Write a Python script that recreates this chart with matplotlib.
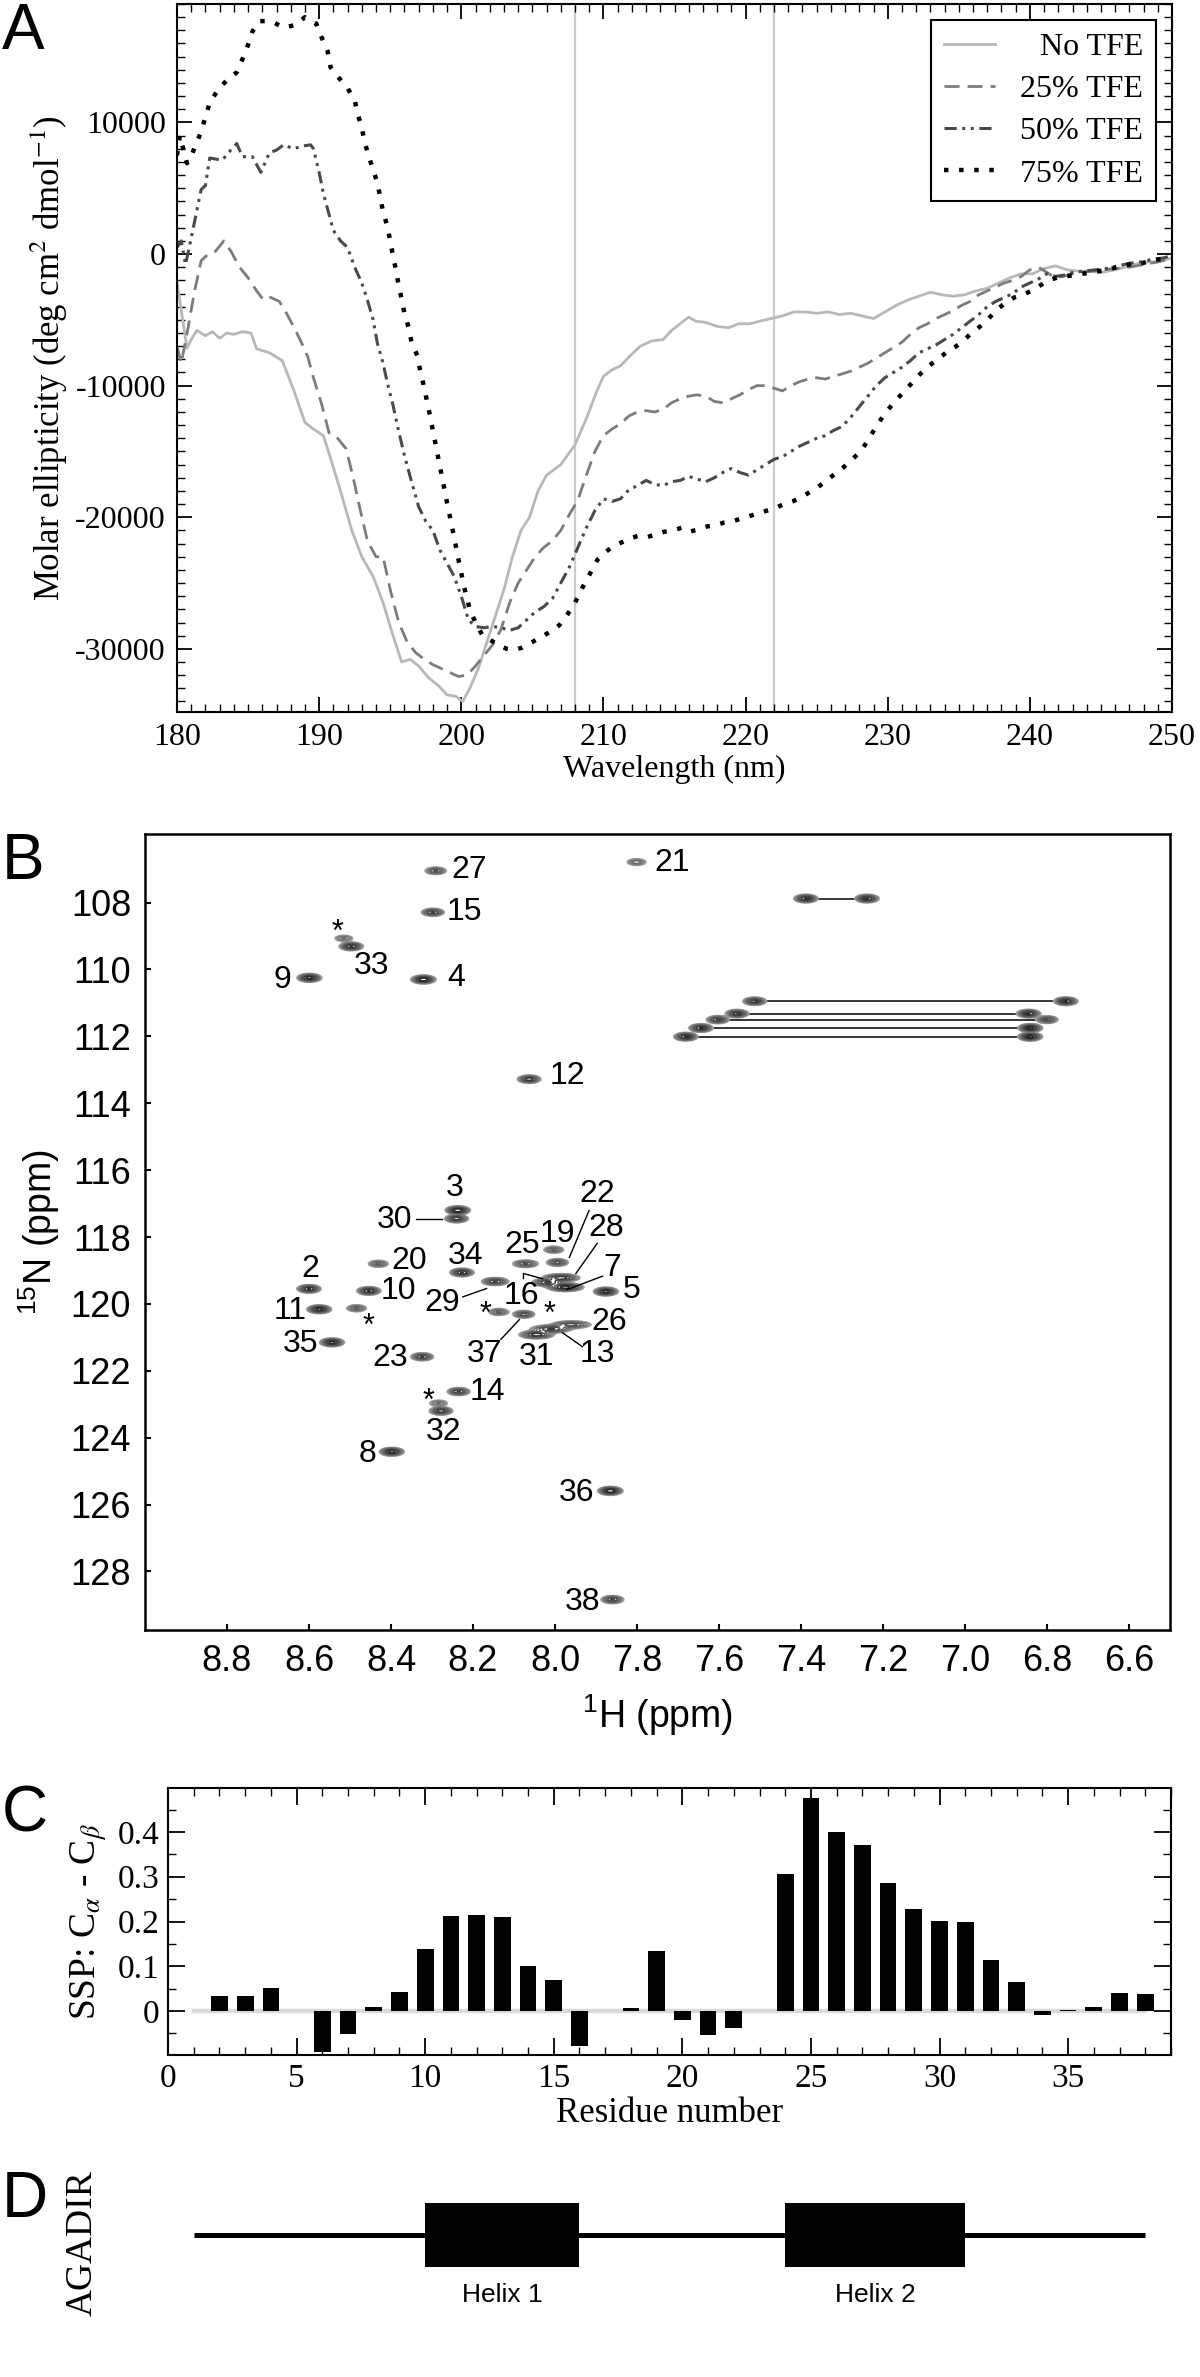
import numpy as np
import matplotlib
matplotlib.use("Agg")
import matplotlib.pyplot as plt
from matplotlib.ticker import MultipleLocator

plt.rcParams['font.family'] = ['Liberation Serif', 'DejaVu Serif']
plt.rcParams['axes.unicode_minus'] = False
plt.rcParams['mathtext.fontset'] = 'custom'
plt.rcParams['mathtext.rm'] = 'Liberation Sans'
plt.rcParams['mathtext.it'] = 'Liberation Sans:italic'
plt.rcParams['mathtext.bf'] = 'Liberation Sans:bold'

SANS = ['Liberation Sans', 'DejaVu Sans']
NARROW = ['Liberation Sans Narrow', 'Liberation Sans', 'DejaVu Sans']

# ---------------- panel A: CD spectra ----------------
wl_none = [180.0, 180.4, 180.7, 181.0, 181.4, 182.0, 182.5, 183.0, 183.5, 184.0, 184.6, 185.2, 185.6,
           186.5, 187.4, 188.2, 189.0, 189.6, 190.3, 190.8, 191.5, 192.3, 193.0, 193.8, 194.5, 195.2,
           195.8, 196.4, 197.0, 197.7, 198.4, 199.0, 199.6, 200.1, 200.6, 201.2, 201.8, 202.4, 203.0,
           203.6, 204.2, 204.8, 205.4, 206.0, 207.0, 208.0, 208.8, 209.5, 210.0, 210.6, 211.2, 212.0,
           212.6, 213.4, 214.2, 214.8, 215.5, 216.0, 216.5, 217.2, 218.0, 218.8, 219.5, 220.3, 221.0,
           221.8, 222.6, 223.4, 224.2, 225.0, 225.8, 226.6, 227.4, 228.2, 229.0, 229.8, 230.6, 231.4,
           232.2, 233.0, 233.8, 234.6, 235.4, 236.2, 237.0, 237.8, 238.6, 239.4, 240.2, 241.0, 241.8,
           242.6, 243.4, 244.2, 245.0, 246.0, 247.0, 248.0, 249.0, 250.0]
cd_none = [-2100, -5000, -7150, -6500, -5800, -6200, -5900, -6400, -6000, -6100, -5900, -6000, -7200,
           -7500, -8100, -10300, -12800, -13300, -13800, -15500, -18000, -21000, -23000, -24500, -26500,
           -29000, -31000, -30800, -31300, -32200, -32800, -33500, -33600, -34000, -33000, -31500,
           -29500, -27500, -25500, -23000, -21000, -20000, -18000, -16800, -16000, -14500, -12500,
           -10500, -9300, -8800, -8500, -7600, -7000, -6600, -6500, -5800, -5200, -4800, -5100, -5200,
           -5500, -5600, -5300, -5300, -5100, -4900, -4700, -4400, -4400, -4500, -4400, -4600, -4500,
           -4700, -4900, -4400, -3900, -3500, -3200, -2900, -3100, -3200, -3100, -2800, -2600, -2200,
           -1800, -1500, -1500, -1100, -900, -1200, -1300, -1300, -1400, -1200, -900, -600, -600, -300]

wl_25 = [180.0, 180.3, 180.8, 181.2, 181.7, 182.2, 182.7, 183.3, 183.8, 184.4, 185.0, 185.6, 186.1,
         186.6, 187.2, 187.7, 188.2, 188.7, 189.2, 189.6, 190.2, 190.7, 191.3, 191.9, 192.4, 192.9,
         193.4, 194.0, 194.5, 195.0, 195.6, 196.2, 196.8, 197.4, 198.0, 198.6, 199.2, 199.8, 200.4,
         201.0, 201.6, 202.2, 202.8, 203.4, 204.0, 204.6, 205.2, 205.8, 206.4, 207.0, 207.6, 208.2,
         208.8, 209.4, 210.0, 210.6, 211.2, 211.8, 212.4, 213.0, 213.6, 214.2, 214.8, 215.4, 216.0,
         216.6, 217.2, 217.8, 218.4, 219.0, 219.6, 220.2, 220.8, 221.4, 222.0, 222.6, 223.2, 223.8,
         224.4, 225.0, 225.6, 226.2, 226.8, 227.4, 228.0, 228.6, 229.2, 229.8, 230.4, 231.0, 231.6,
         232.2, 232.8, 233.4, 234.0, 234.6, 235.2, 235.8, 236.4, 237.0, 237.6, 238.2, 238.8, 239.4,
         240.0, 240.6, 241.2, 241.8, 242.4, 243.0, 243.6, 244.4, 245.2, 246.0, 247.0, 248.0, 249.0, 250.0]
cd_25 = [-7000, -8300, -5500, -3000, -500, 0, 200, 1000, 200, -1000, -1800, -2800, -3500, -3300, -3600,
         -4500, -5500, -6600, -7800, -9400, -11500, -13600, -14000, -14800, -17000, -19500, -21800,
         -23000, -23000, -25500, -28000, -29500, -30300, -30800, -31200, -31500, -31800, -32100,
         -32000, -31300, -30500, -29700, -28500, -26500, -25000, -24000, -23000, -22300, -21800,
         -21000, -19800, -18700, -16800, -15000, -13800, -13300, -12900, -12300, -12000, -11900,
         -12000, -11800, -11300, -11000, -10800, -10700, -10800, -11200, -11300, -11000, -10700,
         -10300, -10000, -10000, -10200, -10400, -10000, -9700, -9500, -9400, -9500, -9300, -9100,
         -8900, -8600, -8300, -7900, -7500, -7100, -6700, -6100, -5600, -5300, -4900, -4600, -4300,
         -3900, -3600, -3100, -2800, -2500, -2200, -2000, -1700, -1200, -1000, -1400, -1800, -1700,
         -1500, -1400, -1300, -1200, -1100, -1000, -800, -600, -300]

wl_50 = [180.0, 180.3, 180.6, 180.9, 181.3, 181.7, 182.0, 182.3, 182.8, 183.2, 183.7, 184.2, 184.6,
         185.3, 185.9, 186.5, 187.0, 187.5, 188.2, 188.8, 189.4, 189.6, 190.0, 190.3, 190.7, 191.0,
         191.5, 192.0, 192.5, 193.0, 193.4, 193.8, 194.1, 194.5, 194.8, 195.2, 195.6, 196.0, 196.5,
         197.0, 197.5, 198.0, 198.5, 199.0, 199.5, 200.0, 200.5, 201.0, 201.6, 202.2, 202.8, 203.4,
         204.0, 204.6, 205.2, 205.8, 206.4, 207.0, 207.6, 208.2, 208.8, 209.4, 210.0, 210.6, 211.2,
         211.8, 212.4, 213.0, 213.6, 214.2, 214.8, 215.4, 216.0, 216.6, 217.2, 217.8, 218.4, 219.0,
         219.6, 220.2, 220.8, 221.4, 222.0, 222.6, 223.2, 223.8, 224.4, 225.0, 225.6, 226.2, 226.8,
         227.4, 228.0, 228.6, 229.2, 229.8, 230.4, 231.0, 231.6, 232.2, 232.8, 233.4, 234.0, 234.6,
         235.2, 235.8, 236.4, 237.0, 237.6, 238.2, 238.8, 239.4, 240.0, 240.6, 241.2, 241.8, 242.4,
         243.0, 243.8, 244.6, 245.4, 246.2, 247.0, 247.8, 248.6, 249.4, 250.0]
cd_50 = [500, 1000, -800, 700, 2800, 4900, 5200, 7300, 7200, 7150, 7800, 8400, 7400, 7400, 6200, 7700,
         7900, 8300, 8000, 8200, 8300, 8000, 6200, 4600, 3000, 1800, 1000, 500, -1000, -2200, -3500,
         -5000, -6800, -8300, -9800, -11500, -13500, -15300, -17300, -19200, -20300, -21000, -22500,
         -23500, -24500, -26000, -27800, -28300, -28400, -28300, -28400, -28600, -28400, -27800,
         -27200, -26800, -26200, -25000, -23800, -22300, -20800, -19500, -18600, -18800, -18600,
         -17900, -17600, -17200, -17500, -17600, -17300, -17200, -16900, -17100, -17300, -17000,
         -16600, -16300, -16600, -16800, -16400, -16000, -15600, -15400, -15000, -14600, -14300,
         -14000, -13800, -13400, -13100, -12400, -11600, -10800, -10000, -9400, -9000, -8600, -8100,
         -7500, -7200, -6900, -6500, -6100, -5600, -5100, -4600, -4000, -3600, -3300, -3000, -2500,
         -2200, -1900, -1500, -1700, -1600, -1400, -1300, -1200, -1100, -900, -700, -600, -400, -300, -100]

wl_75 = [180.0, 180.2, 180.7, 181.1, 181.7, 182.3, 182.9, 183.5, 184.2, 184.6, 185.0, 185.3, 185.8,
         186.3, 186.8, 187.5, 188.3, 189.0, 189.8, 190.2, 190.6, 190.8, 191.3, 192.0, 192.5, 192.7,
         193.0, 193.2, 193.5, 193.8, 194.1, 194.3, 194.5, 194.8, 195.0, 195.2, 195.4, 195.6, 195.8,
         196.0, 196.3, 196.5, 196.9, 197.1, 197.4, 197.8, 198.2, 198.6, 199.0, 199.4, 199.8, 200.2,
         200.6, 201.0, 201.5, 202.0, 202.6, 203.2, 203.7, 204.3, 204.8, 205.3, 205.8, 206.4, 206.9,
         207.4, 208.0, 208.5, 209.1, 209.6, 210.2, 210.7, 211.3, 211.9, 212.5, 213.1, 213.7, 214.3,
         214.9, 215.5, 216.1, 216.7, 217.3, 217.9, 218.5, 219.1, 219.7, 220.3, 220.9, 221.5, 222.1,
         222.7, 223.3, 223.9, 224.5, 225.1, 225.7, 226.3, 226.9, 227.5, 228.1, 228.7, 229.3, 229.9,
         230.5, 231.1, 231.7, 232.3, 232.9, 233.5, 234.1, 234.7, 235.3, 235.9, 236.5, 237.1, 237.7,
         238.3, 238.9, 239.5, 240.1, 240.7, 241.3, 241.9, 242.5, 243.1, 243.7, 244.3, 244.9, 245.5,
         246.1, 246.7, 247.3, 247.9, 248.5, 249.1, 249.7, 250.0]
cd_75 = [7500, 9000, 6900, 7700, 9300, 11500, 12500, 13200, 13800, 14800, 15900, 16900, 17700, 17700,
         17600, 17200, 17400, 18000, 17500, 16400, 15400, 14200, 13500, 12600, 11700, 10700, 9600,
         8500, 7400, 6400, 5400, 4300, 3200, 2100, 1000, -150, -1200, -2400, -3400, -4500, -5600,
         -6700, -7700, -8800, -10200, -12300, -14500, -16700, -18900, -21000, -23200, -25300, -27000,
         -28000, -29000, -29300, -29700, -30000, -30100, -29900, -29600, -29300, -29000, -28600,
         -28200, -27500, -26500, -25400, -24200, -23200, -22600, -22200, -21900, -21600, -21400,
         -21500, -21300, -21100, -21000, -20800, -21100, -20900, -20700, -20600, -20400, -20300,
         -20100, -19900, -19700, -19500, -19300, -19000, -18800, -18500, -18100, -17700, -17200,
         -16700, -16200, -15600, -15000, -14000, -12900, -12000, -11200, -10500, -9800, -9100, -8500,
         -8000, -7500, -7100, -6600, -6000, -5500, -4900, -4200, -3700, -3300, -3100, -2800, -2400,
         -2000, -1800, -1700, -1600, -1500, -1400, -1300, -1200, -1000, -900, -700, -700, -500, -400,
         -300, -300]

cd_labels = ['No TFE', '25% TFE', '50% TFE', '75% TFE']
marker_wl = [208, 222]

# ---------------- panel B: 1H-15N HSQC ----------------
peak_h = [8.600, 8.237, 8.321, 7.876, 7.975, 8.398, 8.599, 8.454, 8.575, 8.063, 8.010, 8.235, 8.298,
          8.018, 8.003, 8.431, 7.801, 7.994, 8.324, 8.072, 7.960, 8.291, 7.985, 8.146, 8.240, 8.045,
          8.278, 8.497, 8.227, 8.544, 7.865, 8.076, 7.860,
          8.515, 8.484, 8.137, 8.284,
          7.388, 7.239, 7.513, 6.754, 7.556, 6.845, 7.603, 6.800, 7.644, 6.841, 7.681, 6.841]
peak_n = [119.55, 117.20, 110.30, 119.63, 119.50, 124.42, 110.25, 119.61, 120.16, 113.28, 120.75,
          122.62, 108.29, 119.36, 118.38, 118.80, 106.79, 118.76, 121.58, 118.80, 120.62, 107.05,
          119.22, 119.33, 117.45, 120.92, 123.20, 109.31, 119.06, 121.15, 125.59, 120.31, 128.84,
          109.07, 120.13, 120.24, 122.97,
          107.88, 107.88, 110.95, 110.95, 111.32, 111.32, 111.50, 111.50, 111.75, 111.75, 112.01, 112.01]
peak_amp = [0.8, 1.0, 1.0, 0.9, 0.9, 0.9, 0.9, 0.8, 0.9, 0.7, 0.6, 0.6, 0.6, 0.6, 0.35, 0.35, 0.3,
            0.5, 0.6, 0.45, 0.5, 0.45, 0.7, 0.6, 0.7, 0.7, 0.7, 0.8, 0.8, 0.9, 1.0, 0.5, 0.6,
            0.25, 0.35, 0.35, 0.25,
            0.8, 0.8, 0.7, 0.8, 0.7, 0.8, 0.6, 0.5, 0.8, 0.9, 0.8, 0.9]
peak_wide = [1, 1, 1, 1, 1.5, 1, 1, 1, 1, 1, 1.8, 1, 1, 1.4, 1, 1, 1, 1, 1, 1.2, 1.8, 1, 1.6, 1.2, 1,
             1.5, 1, 1, 1, 1, 1, 1, 1,
             1, 1, 1, 1,
             1, 1, 1, 1, 1, 1, 1, 1, 1, 1, 1, 1]

sc_pairs = [(7.388, 7.239, 107.88), (7.513, 6.754, 110.95), (7.556, 6.845, 111.32),
            (7.603, 6.800, 111.50), (7.644, 6.841, 111.75), (7.681, 6.841, 112.01)]

lab_txt = ['27', '15', '21', '33', '9', '4', '12', '3', '30', '20', '34', '2', '10', '11', '35', '23',
           '29', '16', '25', '19', '22', '28', '7', '5', '26', '13', '31', '37', '14', '32', '8', '36', '38']
lab_h = [8.209, 8.221, 7.713, 8.447, 8.665, 8.241, 7.970, 8.245, 8.391, 8.356, 8.217, 8.596, 8.381,
         8.645, 8.621, 8.403, 8.274, 8.081, 8.081, 7.994, 7.897, 7.876, 7.860, 7.813, 7.868, 7.897,
         8.045, 8.172, 8.164, 8.271, 8.458, 7.948, 7.933]
lab_n = [107.03, 108.27, 106.81, 109.90, 110.32, 110.27, 113.19, 116.54, 117.49, 118.71, 118.57,
         118.97, 119.62, 120.22, 121.20, 121.63, 119.97, 119.77, 118.24, 117.92, 116.72, 117.74,
         118.94, 119.59, 120.54, 121.50, 121.58, 121.50, 122.63, 123.83, 124.50, 125.66, 128.90]
star_h = [8.531, 8.454, 8.170, 8.014, 8.308]
star_n = [108.66, 120.43, 120.07, 120.09, 122.68]
leaders = [[(8.338, 117.46), (8.275, 117.46)],
           [(8.225, 119.79), (8.167, 119.54)],
           [(7.917, 117.21), (7.965, 118.61)],
           [(7.897, 118.19), (7.949, 119.09)],
           [(7.884, 119.17), (7.970, 119.57)],
           [(7.933, 121.28), (7.982, 120.86)],
           [(8.132, 121.06), (8.087, 120.47)],
           [(8.077, 119.24), (8.077, 119.09), (8.030, 119.25)]]
h_ticks = [8.8, 8.6, 8.4, 8.2, 8.0, 7.8, 7.6, 7.4, 7.2, 7.0, 6.8, 6.6]
n_ticks = [108, 110, 112, 114, 116, 118, 120, 122, 124, 126, 128]

# ---------------- panel C: SSP ----------------
residue = list(range(1, 39))
ssp = [np.nan, 0.034, 0.034, 0.052, np.nan, -0.092, -0.051, 0.010, 0.042, 0.138, 0.212, 0.215,
       0.209, 0.100, 0.070, -0.079, np.nan, 0.008, 0.134, -0.019, -0.053, -0.038, np.nan, 0.307,
       0.475, 0.399, 0.371, 0.285, 0.227, 0.201, 0.200, 0.113, 0.065, -0.008, 0.003, 0.010, 0.041,
       0.038]

# ---------------- panel D: AGADIR ----------------
helix_start = [10, 24]
helix_end = [16, 31]
helix_name = ['Helix 1', 'Helix 2']

W, H = 1200, 2377
fig = plt.figure(figsize=(W / 100, H / 100), dpi=100)


def box(x0, y0, x1, y1):
    return [x0 / W, 1 - y1 / H, (x1 - x0) / W, (y1 - y0) / H]


# ---- A ----
axA = fig.add_axes(box(177, 4, 1172, 712))
for w in marker_wl:
    axA.axvline(w, color='#cccccc', lw=1.6, zorder=0)
axA.plot(wl_none, cd_none, color='#b8b8b8', lw=2.0, label=cd_labels[0])
axA.plot(wl_25, cd_25, color='#7c7c7c', lw=2.0, ls=(0, (5.4, 2.9)), label=cd_labels[1])
axA.plot(wl_50, cd_50, color='#4a4a4a', lw=2.2, ls=(0, (4, 1.8, 1, 1.8, 1, 1.8)), label=cd_labels[2])
axA.plot(wl_75, cd_75, color='black', lw=3.2, ls=(0, (1, 2.4)), label=cd_labels[3])
axA.set_xlim(180, 250)
axA.set_ylim(-34800, 19000)
axA.xaxis.set_major_locator(MultipleLocator(10))
axA.xaxis.set_minor_locator(MultipleLocator(1))
axA.yaxis.set_major_locator(MultipleLocator(10000))
axA.yaxis.set_minor_locator(MultipleLocator(1000))
axA.tick_params(which='both', direction='in', top=True, right=True, labelsize=23, pad=8)
axA.tick_params(which='major', length=11, width=1.3)
axA.tick_params(which='minor', length=5.5, width=1.0)
for s in axA.spines.values():
    s.set_linewidth(1.5)
axA.set_xlabel('Wavelength (nm)', fontsize=23, labelpad=2)
axA.set_ylabel('Molar ellipticity (deg cm$^2$ dmol$^{-1}$)', fontsize=25, labelpad=4,
               math_fontfamily='stix')
leg = axA.legend(loc='upper right', fontsize=23, fancybox=False, edgecolor='black', framealpha=1,
                 handlelength=1.6, borderaxespad=0.5, labelspacing=0.4, borderpad=0.4,
                 handletextpad=0.8)
leg.get_frame().set_linewidth(1.5)
# right-align the legend texts like the original
fig.canvas.draw()
texts = leg.get_texts()
widths = [t.get_window_extent().width for t in texts]
wmax = max(widths)
for t, w in zip(texts, widths):
    t.set_position((wmax - w, 0))

# ---- B ----
axB = fig.add_axes(box(145, 834, 1170, 1630))
gx = np.linspace(6.5, 9.0, 1500)
gy = np.linspace(105.9, 129.8, 1400)
Z = np.zeros((gy.size, gx.size))
for h, n, a, f in zip(peak_h, peak_n, peak_amp, peak_wide):
    Z += a * np.exp(-0.5 * ((gy[:, None] - n) / 0.058) ** 2) * np.exp(-0.5 * ((gx[None, :] - h) / (0.0135 * f)) ** 2)
levels = 0.07 * 1.35 ** np.arange(10)
greys = plt.cm.Greys(np.linspace(0.45, 0.92, len(levels)))
axB.contour(gx, gy, Z, levels=levels, colors=greys, linewidths=1.1)
for h1, h2, n in sc_pairs:
    axB.plot([h1, h2], [n, n], color='black', lw=1.1, zorder=1)
for seg in leaders:
    xs, ys = zip(*seg)
    axB.plot(xs, ys, color='black', lw=1.0)
for t, x, y in zip(lab_txt, lab_h, lab_n):
    axB.text(x, y, t, ha='center', va='center', fontsize=23, family=SANS)
for x, y in zip(star_h, star_n):
    axB.annotate('*', (x, y), xytext=(0, -6), textcoords='offset points', ha='center', va='center',
                 fontsize=22, family=SANS)
axB.set_xlim(9.0, 6.5)
axB.set_ylim(129.75, 105.95)
axB.set_xticks(h_ticks)
axB.set_xticklabels([f'{v:.1f}' for v in h_ticks])
axB.set_yticks(n_ticks)
axB.tick_params(direction='in', length=4, width=1.5, labelsize=26, pad=10, labelfontfamily='Liberation Sans')
for s in axB.spines.values():
    s.set_linewidth(1.8)
axB.set_xlabel('$^{1}$H (ppm)', fontsize=27, family=SANS, labelpad=10)
axB.set_ylabel('$^{15}$N (ppm)', fontsize=27, family=SANS, labelpad=6)

# ---- C ----
axC = fig.add_axes(box(168, 1788, 1171, 2055))
axC.plot([residue[0], residue[-1]], [0, 0], color='#d9d9d9', lw=3.2, zorder=1)
axC.bar(residue, ssp, width=0.65, color='black', zorder=2)
axC.set_xlim(0, 39)
axC.set_ylim(-0.098, 0.498)
axC.xaxis.set_major_locator(MultipleLocator(5))
axC.xaxis.set_minor_locator(MultipleLocator(1))
axC.set_yticks([0, 0.1, 0.2, 0.3, 0.4])
axC.set_yticklabels(['0', '0.1', '0.2', '0.3', '0.4'])
axC.yaxis.set_minor_locator(MultipleLocator(0.05))
axC.tick_params(which='both', direction='in', top=True, right=True, labelsize=24, pad=6)
axC.tick_params(which='major', length=12, width=1.3)
axC.tick_params(which='minor', length=6, width=1.0)
for s in axC.spines.values():
    s.set_linewidth(1.5)
axC.set_xlabel('Residue number', fontsize=25, labelpad=2)
axC.set_ylabel(r'SSP: C$_{\alpha}$ - C$_{\beta}$', fontsize=27, labelpad=6, math_fontfamily='stix')

# ---- D ----
axD = fig.add_axes(box(168, 2145, 1171, 2325))
axD.set_xlim(0, 39)
axD.set_ylim(-1.406, 1.406)
axD.axis('off')
axD.plot([residue[0], residue[-1]], [0, 0], color='black', lw=3.6, solid_capstyle='butt', zorder=1)
axD.barh([0] * len(helix_start), [e - s for s, e in zip(helix_start, helix_end)], left=helix_start,
         height=1.0, color='black', zorder=2)
for s, e, name in zip(helix_start, helix_end, helix_name):
    axD.text((s + e) / 2, -0.94, name, ha='center', va='center', fontsize=19, family=NARROW)
fig.text(82 / W, 1 - 2243 / H, 'AGADIR', rotation=90, ha='center', va='center', fontsize=27)

# panel letters
for letter, ytop in zip(['A', 'B', 'C', 'D'], [2, 832, 1784, 2170]):
    fig.text(2 / W, 1 - ytop / H, letter, ha='left', va='top', fontsize=46, family=SANS)

fig.savefig('out.png', dpi=100)
